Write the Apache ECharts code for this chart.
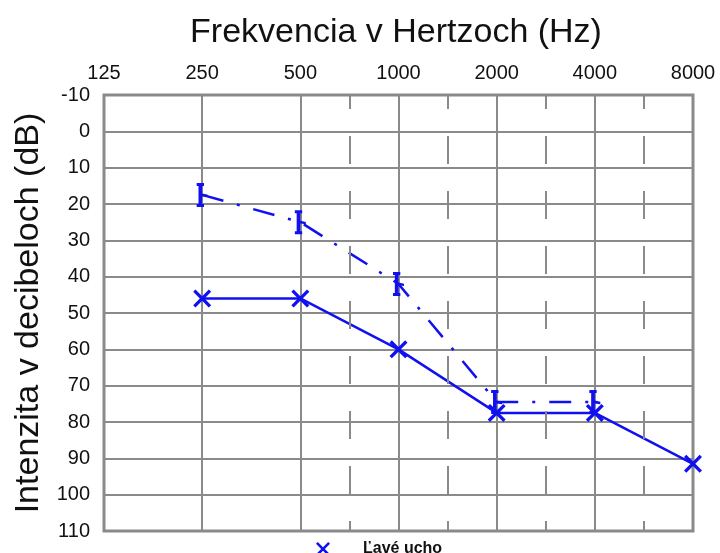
<!DOCTYPE html>
<html><head><meta charset="utf-8">
<script src="https://cdn.jsdelivr.net/npm/echarts@6/dist/echarts.min.js"></script>
<style>html,body{margin:0;padding:0;background:#fff}#c{width:720px;height:553px}</style>
</head><body><div id="c"></div>
<script>
const freqLabels = ['125','250','500','1000','2000','4000','8000'];
const halfOctaves = [2.5, 3.5, 4.5, 5.5];
const leftEarFreq = [250, 500, 1000, 2000, 4000, 8000];
const leftEarDb = [46, 46, 60, 77.5, 77.5, 91.5];
const boneFreq = [250, 500, 1000, 2000, 4000];
const boneDb = [17.5, 25, 42, 74.5, 74.5];

const oct = f => Math.log2(f / 125);
const xShape = 'path://M0,1.3L1.3,0L5,3.7L8.7,0L10,1.3L6.3,5L10,8.7L8.7,10L5,6.3L1.3,10L0,8.7L3.7,5Z';
const brShape = 'path://M0,0L6,0L6,2.5L4.5,2.5L4.5,8.8L9,9.8L9,11.8L4.5,11.2L4.5,17.5L6,17.5L6,20L0,20L0,17.5L1.5,17.5L1.5,2.5L0,2.5Z';

const chart = echarts.init(document.getElementById('c'));
chart.setOption({
  animation: false,
  title: {text: 'Frekvencia v Hertzoch (Hz)', left: 391, top: 11, textAlign: 'center',
    textStyle: {fontFamily: 'Liberation Sans', fontSize: 34, fontWeight: 'normal', color: '#111'}},
  grid: {left: 104, right: 27, top: 95, bottom: 22, show: true, borderColor: '#8a8a8a', borderWidth: 3,
    outerBoundsMode: 'none', containLabel: false},
  legend: {data: [{name: 'Ľavé ucho', icon: xShape}], left: 311, top: 536, itemWidth: 20, itemHeight: 14,
    textStyle: {fontFamily: 'Liberation Sans', fontSize: 16, fontWeight: 'bold', color: '#111', padding: [0, 0, 0, 25]}},
  xAxis: {type: 'value', position: 'top', min: 0, max: 6, interval: 1,
    axisLine: {show: false}, axisTick: {show: false},
    axisLabel: {formatter: v => freqLabels[Math.round(v)], fontFamily: 'Liberation Sans', fontSize: 20, color: '#111', margin: 12},
    splitLine: {show: true, lineStyle: {color: '#8a8a8a', width: 2}}},
  yAxis: {type: 'value', inverse: true, min: -10, max: 110, interval: 10,
    name: 'Intenzita v decibeloch (dB)', nameLocation: 'middle', nameGap: 57,
    nameTextStyle: {fontFamily: 'Liberation Sans', fontSize: 34, color: '#111'},
    axisLine: {show: false}, axisTick: {show: false},
    axisLabel: {fontFamily: 'Liberation Sans', fontSize: 20, color: '#111', margin: 14},
    splitLine: {show: true, lineStyle: {color: '#8a8a8a', width: 2}}},
  series: [
    {name: 'half', type: 'line', data: [], silent: true,
      markLine: {symbol: 'none', silent: true, label: {show: false},
        lineStyle: {color: '#8a8a8a', width: 2, type: [28, 27], dashOffset: 14},
        data: halfOctaves.map(v => ({xAxis: v}))}},
    {name: 'bone', type: 'line', data: boneFreq.map((f, i) => [oct(f), boneDb[i]]),
      symbol: brShape, symbolSize: [11, 24], lineStyle: {color: '#1010f0', width: 2.5, type: [22, 14, 3, 14]},
      itemStyle: {color: '#1010f0'}},
    {name: 'Ľavé ucho', type: 'line', data: leftEarFreq.map((f, i) => [oct(f), leftEarDb[i]]),
      symbol: xShape, symbolSize: 18, lineStyle: {color: '#1010f0', width: 2.5},
      itemStyle: {color: '#1010f0'}}
  ]
});
</script></body></html>
